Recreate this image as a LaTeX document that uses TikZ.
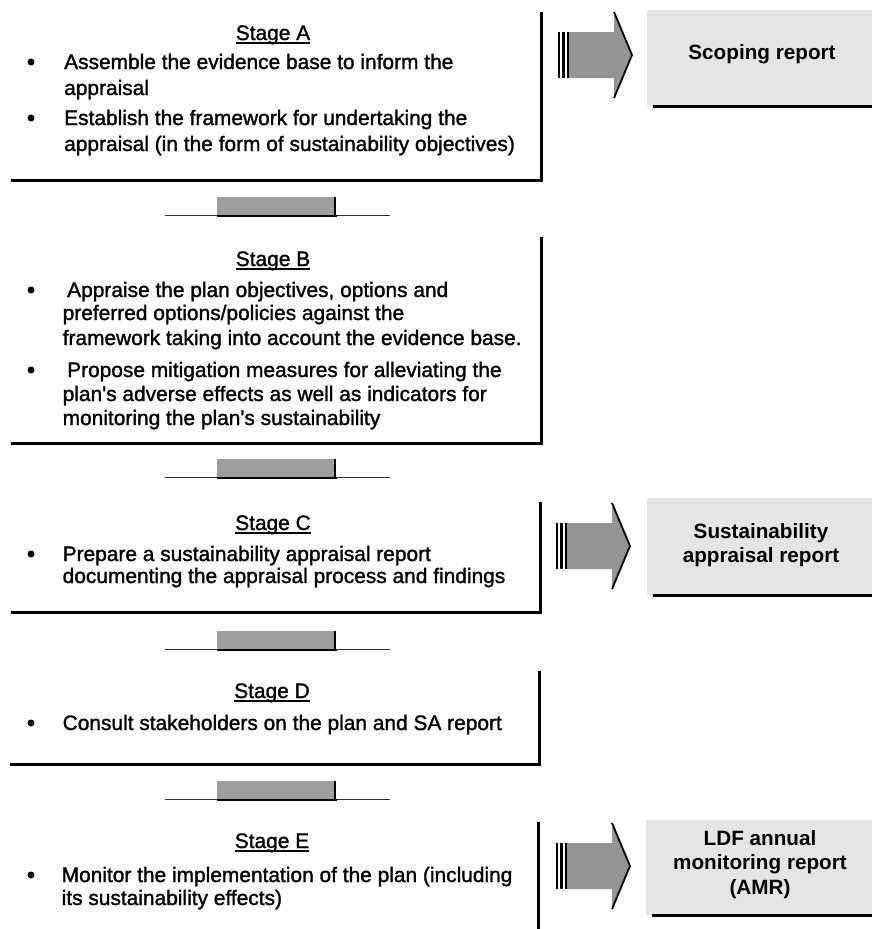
\documentclass[tikz,border=0pt]{standalone}
\usepackage{fontspec}
\setmainfont{Liberation Sans}
\newfontfamily\heavyfont[FakeBold=1.4]{Liberation Sans}
\usetikzlibrary{calc}
\tikzset{
  txt/.style={anchor=base west, inner sep=0pt, font=\heavyfont\fontsize{20.9}{25}\selectfont},
  ttl/.style={anchor=base, inner sep=0pt, font=\heavyfont\fontsize{20.9}{25}\selectfont},
  rtxt/.style={anchor=base, inner sep=0pt, font=\fontsize{20.7}{25}\selectfont\bfseries},
  frame/.style={line width=2.2pt, black},
  uline/.style={line width=1.1pt, black},
  stagebox/.style={draw=none, inner sep=0pt, anchor=north west},
  reportbox/.style={fill=black!10, draw=none, inner sep=0pt, anchor=north west},
  bul/.style={circle, fill=black, inner sep=0pt, minimum size=7pt},
  rarrow/.pic={
    \fill[black!42] (12,-23) -- (57,-23) -- (57,-43) -- (75,0) -- (57,43) -- (57,23) -- (12,23) -- cycle;
    \draw[line width=1.8pt, line join=miter] (57,-43) -- (75,0) -- (57,43);
    \draw[line width=2.2pt] (2,-23) -- (2,23) (6.5,-23) -- (6.5,23) (11,-23) -- (11,23);
  },
  sarrow/.pic={
    \draw[line width=1pt, black!80] (0,0) -- (225,0);
    \fill[black!38] (52,-18) rectangle (170,0);
    \draw[line width=2.5pt] (52,1) -- (172,1);
    \draw[line width=2pt] (170,-18) -- (170,2);
  }
}
\begin{document}
\begin{tikzpicture}[x=1pt,y=-1pt]
\useasboundingbox (0,0) rectangle (872,929);
\fill[white] (0,0) rectangle (872,929);

% ---- stage frames
\node[stagebox, minimum width=530pt, minimum height=168pt] (boxA) at (11,12) {};
\node[stagebox, minimum width=530pt, minimum height=206pt] (boxB) at (11,237) {};
\node[stagebox, minimum width=529pt, minimum height=110pt] (boxC) at (11,502) {};
\node[stagebox, minimum width=529pt, minimum height=93pt] (boxD) at (10,671) {};
\node[stagebox, minimum width=528pt, minimum height=110pt] (boxE) at (10,822) {};
\draw[frame] (boxA.north east) -- (boxA.south east) -- (boxA.south west);
\draw[frame] (boxB.north east) -- (boxB.south east) -- (boxB.south west);
\draw[frame] (boxC.north east) -- (boxC.south east) -- (boxC.south west);
\draw[frame] (boxD.north east) -- (boxD.south east) -- (boxD.south west);
\draw[frame] (boxE.north east) -- (boxE.south east);

% ---- stage A
\node[ttl] (tA) at (273,40) {Stage A};
\draw[uline] ($(tA.base west)+(0,3)$) -- ($(tA.base east)+(0,3)$);
\node[bul] (bA1) at (31,62) {};
\node[txt] (a1) at (64,69) {Assemble the evidence base to inform the};
\node[txt] (a2) at (64,95) {appraisal};
\node[bul] (bA2) at (31,118) {};
\node[txt] (a3) at (64,125) {Establish the framework for undertaking the};
\node[txt] (a4) at (64,151) {appraisal (in the form of sustainability objectives)};

% ---- stage B
\node[ttl] (tB) at (273,266) {Stage B};
\draw[uline] ($(tB.base west)+(0,3)$) -- ($(tB.base east)+(0,3)$);
\node[bul] (bB1) at (31,290) {};
\node[txt] (b1) at (67,297) {Appraise the plan objectives, options and};
\node[txt] (b2) at (62.5,320) {preferred options/policies against the};
\node[txt] (b3) at (62.5,345) {framework taking into account the evidence base.};
\node[bul] (bB2) at (31,370) {};
\node[txt] (b4) at (67,377) {Propose mitigation measures for alleviating the};
\node[txt] (b5) at (62.5,401) {plan's adverse effects as well as indicators for};
\node[txt] (b6) at (62.5,425) {monitoring the plan's sustainability};

% ---- stage C
\node[ttl] (tC) at (273,530) {Stage C};
\draw[uline] ($(tC.base west)+(0,3)$) -- ($(tC.base east)+(0,3)$);
\node[bul] (bC1) at (31,554) {};
\node[txt] (c1) at (62.5,561) {Prepare a sustainability appraisal report};
\node[txt] (c2) at (62.5,583) {documenting the appraisal process and findings};

% ---- stage D
\node[ttl] (tD) at (272,698) {Stage D};
\draw[uline] ($(tD.base west)+(0,3)$) -- ($(tD.base east)+(0,3)$);
\node[bul] (bD1) at (31,723) {};
\node[txt] (d1) at (62.5,730) {Consult stakeholders on the plan and SA report};

% ---- stage E
\node[ttl] (tE) at (272,848) {Stage E};
\draw[uline] ($(tE.base west)+(0,3)$) -- ($(tE.base east)+(0,3)$);
\node[bul] (bE1) at (31,875) {};
\node[txt] (e1) at (61.5,882) {Monitor the implementation of the plan (including};
\node[txt] (e2) at (61.5,905) {its sustainability effects)};

% ---- arrows between stages
\pic (s1) at (165,215) {sarrow};
\pic (s2) at (165,477) {sarrow};
\pic (s3) at (165,649) {sarrow};
\pic (s4) at (165,799) {sarrow};

% ---- right arrows
\pic (ra1) at (557,55) {rarrow};
\pic (ra2) at (555,546) {rarrow};
\pic (ra3) at (555,866) {rarrow};

% ---- report boxes
\node[reportbox, minimum width=225pt, minimum height=96pt] (r1) at (647,10) {};
\node[reportbox, minimum width=225pt, minimum height=97pt] (r2) at (647,498) {};
\node[reportbox, minimum width=226pt, minimum height=95pt] (r3) at (646,820) {};
\draw[line width=2.5pt] ($(r1.south west)+(6,0)$) -- (r1.south east);
\draw[line width=2.5pt] ($(r2.south west)+(6,0)$) -- (r2.south east);
\draw[line width=2.5pt] ($(r3.south west)+(6,0)$) -- (r3.south east);
\node[rtxt] (r1t) at (762,59) {Scoping report};
\node[rtxt] (r2t1) at (761,538) {Sustainability};
\node[rtxt] (r2t2) at (761,562) {appraisal report};
\node[rtxt] (r3t1) at (760,845) {LDF annual};
\node[rtxt] (r3t2) at (760,869) {monitoring report};
\node[rtxt] (r3t3) at (760,894) {(AMR)};
\end{tikzpicture}
\end{document}
